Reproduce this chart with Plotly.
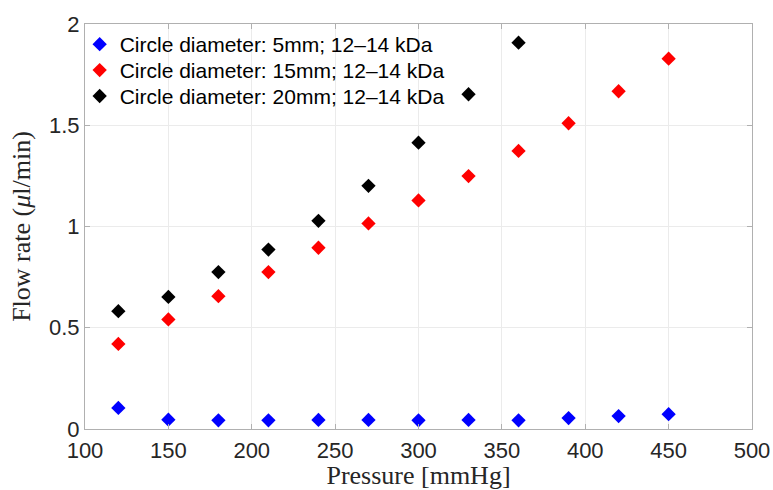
import plotly.graph_objects as go

pressure = [120, 150, 180, 210, 240, 270, 300, 330, 360, 390, 420, 450]
flow_5mm = [0.104, 0.046, 0.043, 0.043, 0.045, 0.045, 0.043, 0.045, 0.043, 0.054, 0.064, 0.073]
flow_15mm = [0.420, 0.541, 0.656, 0.775, 0.895, 1.015, 1.129, 1.249, 1.373, 1.510, 1.668, 1.829]
pressure_20 = [120, 150, 180, 210, 240, 270, 300, 330, 360]
flow_20mm = [0.582, 0.652, 0.775, 0.886, 1.028, 1.201, 1.414, 1.653, 1.908]

names = ["Circle diameter: 5mm; 12–14 kDa",
         "Circle diameter: 15mm; 12–14 kDa",
         "Circle diameter: 20mm; 12–14 kDa"]
colors = ["#0000ff", "#ff0000", "#000000"]
legends = ["legend", "legend2", "legend3"]

fig = go.Figure()
for xs, ys, nm, c, lg in [(pressure, flow_5mm, names[0], colors[0], legends[0]),
                          (pressure, flow_15mm, names[1], colors[1], legends[1]),
                          (pressure_20, flow_20mm, names[2], colors[2], legends[2])]:
    fig.add_trace(go.Scatter(x=xs, y=ys, mode="markers", name=nm, legend=lg,
                             marker=dict(symbol="diamond", size=11, color=c,
                                         line=dict(width=0))))

axis_common = dict(showline=True, linecolor="#b0b0b0", linewidth=1, mirror="ticks",
                   ticks="inside", ticklen=5, tickcolor="#b0b0b0", automargin=False,
                   ticklabeloverflow="allow",
                   showgrid=True, gridcolor="#ebebeb", gridwidth=1, zeroline=False,
                   tickfont=dict(family="Liberation Sans, Arial, sans-serif", size=22, color="#262626"))

leg_font = dict(family="Liberation Sans, Arial, sans-serif", size=21, color="#000000")
leg_common = dict(x=-0.008, xanchor="left", yanchor="top", bgcolor="rgba(255,255,255,0)",
                  font=leg_font, itemwidth=30)

fig.update_layout(
    width=773, height=490,
    margin=dict(l=85, r=21, t=24, b=61),
    paper_bgcolor="white", plot_bgcolor="white",
    xaxis=dict(range=[100, 500], tickvals=[100, 150, 200, 250, 300, 350, 400, 450, 500],
               ticklabelstandoff=2,
               title=dict(text="Pressure [mmHg]", standoff=10,
                          font=dict(family="Liberation Serif, Times New Roman, serif", size=26, color="#262626")),
               **axis_common),
    yaxis=dict(range=[0, 2], tickvals=[0, 0.5, 1, 1.5, 2], ticktext=["0", "0.5", "1", "1.5", "2"],
               title=dict(text="Flow rate (<i>μ</i>l/min)", standoff=10,
                          font=dict(family="Liberation Serif, Times New Roman, serif", size=26, color="#262626")),
               **axis_common),
    legend=dict(y=1.0, **leg_common),
    legend2=dict(y=0.936, **leg_common),
    legend3=dict(y=0.872, **leg_common),
    showlegend=True,
)

# Remove the default 8px page margin so the figure fills the window exactly.
fig.write_html("out.html", config={"displayModeBar": False},
               post_script="document.body.style.margin='0';document.body.style.overflow='hidden';")
